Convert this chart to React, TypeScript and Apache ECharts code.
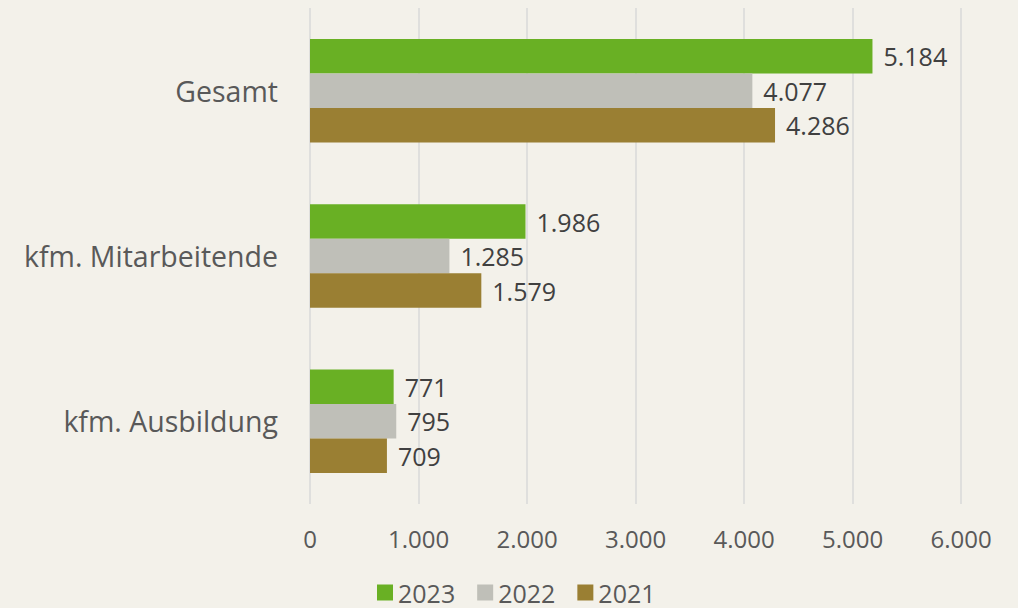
import React, { useEffect, useRef } from "react";
import * as echarts from "echarts";

const categories = ["Gesamt", "kfm. Mitarbeitende", "kfm. Ausbildung"];
const years = ["2023", "2022", "2021"];
const values2023 = [5184, 1986, 771];
const values2022 = [4077, 1285, 795];
const values2021 = [4286, 1579, 709];
const colors = ["#69b024", "#bfbfb8", "#9a7f33"];

const fmt = (v: number) => v.toLocaleString("de-DE");

export default function App() {
  const ref = useRef<HTMLDivElement>(null);
  useEffect(() => {
    document.body.style.margin = "0";
    if (!ref.current) return;
    const chart = echarts.init(ref.current, null, { renderer: "svg" });
    const font = "'Open Sans', sans-serif";
    const seriesData = [values2023, values2022, values2021];
    chart.setOption({
      animation: false,
      backgroundColor: "#f3f1ea",
      textStyle: { fontFamily: font },
      grid: { left: 310, right: 57, top: 8, bottom: 104, containLabel: false },
      legend: {
        bottom: -2,
        left: 372,
        itemWidth: 16,
        itemHeight: 16,
        itemGap: 22,
        icon: "rect",
        textStyle: { color: "#595959", fontSize: 25, fontFamily: font },
        data: years,
      },
      xAxis: {
        type: "value",
        min: 0,
        max: 6000,
        interval: 1000,
        axisLine: { show: false },
        axisTick: { show: false },
        splitLine: { lineStyle: { color: "#d9d9d9", width: 1.5 } },
        axisLabel: {
          color: "#595959",
          fontSize: 24,
          margin: 22,
          fontFamily: font,
          formatter: (v: number) => fmt(v),
        },
      },
      yAxis: {
        type: "category",
        inverse: true,
        data: categories,
        axisLine: { show: false },
        axisTick: { show: false },
        axisLabel: { color: "#595959", fontSize: 28.5, margin: 32, fontFamily: font },
      },
      series: years.map((y, i) => ({
        name: y,
        type: "bar",
        data: seriesData[i],
        barWidth: 34.5,
        barGap: "0%",
        itemStyle: { color: colors[i] },
        label: {
          show: true,
          position: "right",
          distance: 11,
          color: "#404040",
          fontSize: 25,
          fontFamily: font,
          formatter: (p: any) => fmt(p.value),
        },
      })),
    });
    return () => chart.dispose();
  }, []);
  return <div ref={ref} style={{ width: 1018, height: 608 }} />;
}
